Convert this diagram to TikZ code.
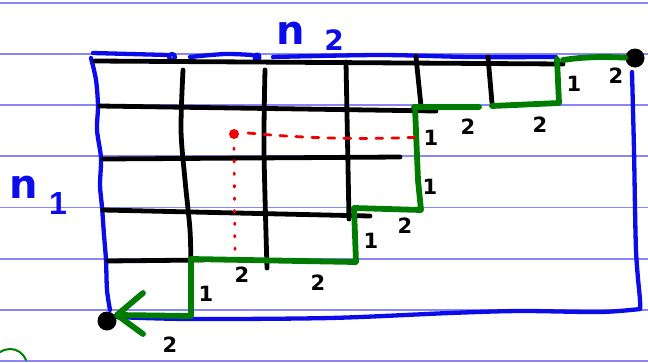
\documentclass[tikz,border=0pt]{standalone}
\usepackage{fontspec}
\setmainfont{DejaVu Sans}
\newfontfamily\plainsans{Liberation Sans}
\definecolor{ruleline}{RGB}{135,135,250}
\definecolor{penblue}{RGB}{12,12,235}
\definecolor{pengreen}{RGB}{0,125,0}
\definecolor{penred}{RGB}{240,0,0}
\begin{document}
\begin{tikzpicture}[x=1pt,y=-1pt,line cap=round,line join=round,
  rule/.style={draw=ruleline,line width=1.3pt},
  bluepen/.style={draw=penblue,line width=4.3pt},
  blackpen/.style={draw=black,line width=4.8pt},
  greenpen/.style={draw=pengreen,line width=5.8pt},
  redpen/.style={draw=penred,line width=2.8pt},
  num/.style={font=\fontsize{21}{21}\selectfont\bfseries,text=black,inner sep=0pt},
  bluelbl/.style={text=penblue,inner sep=0pt},
  dot/.style={circle,fill=black,minimum size=19pt,inner sep=0pt}]
\useasboundingbox (0,0) rectangle (648,362);
\fill[white] (0,0) rectangle (648,362);
% notebook rules
\foreach \y in {3,54,105,156,207.5,259,310,361} \draw[rule] (0,\y) -- (648,\y);
% green fragment bottom-left
\draw[pengreen,line width=2pt] (-10,362) .. controls (2,344) and (20,346) .. (26,360);
% blue outline
\draw[bluepen] plot[smooth] coordinates {(93,53) (130,54) (168,55)};
\draw[bluepen] (172,57) circle[radius=3pt];
\draw[bluepen] plot[smooth] coordinates {(190,57) (225,54) (252,55)};
\draw[bluepen] (257,57) circle[radius=2.5pt];
\draw[bluepen] plot[smooth] coordinates {(273,57) (380,55) (470,57) (556,57)};
\draw[bluepen] plot[smooth] coordinates {(91,58) (96,80) (98,106) (97,130) (101,158) (100,185) (102,207) (104,235) (106,260) (107,290) (110,310)};
\draw[bluepen] plot[smooth] coordinates {(632,72) (634,150) (636,250) (640,300) (640,309)};
\draw[bluepen] plot[smooth] coordinates {(640,309) (600,312) (520,311) (450,313) (330,318) (190,319) (115,317)};
% black grid
\draw[blackpen] (95,61) -- (563,64);
\draw[blackpen] (100,106) -- (436,111);
\draw[blackpen] (103,159) -- (400,157);
\draw[blackpen] (103,210) -- (370,216);
\draw[blackpen] (108,261) -- (203,260);
\draw[blackpen] plot[smooth] coordinates {(183,70) (181,130) (185,180) (190,230) (191,270)};
\draw[blackpen] plot[smooth] coordinates {(265,70) (264,150) (267,268)};
\draw[blackpen] (346,62) -- (349,219);
\draw[blackpen] (416,57) -- (421,106);
\draw[blackpen] (488,57) -- (492,103);
% dots
\node[dot] (tr) at (635,58) {};
\node[dot] (bl) at (107,321) {};
% green staircase
\draw[greenpen] (563,60) .. controls (590,56) and (610,57) .. (tr);
\draw[greenpen] (557,59) -- (559,103) -- (492,106);
\draw[greenpen] (479,107) -- (414,107);
\draw[greenpen] (415,107) -- (418,180) -- (421,210) -- (354,208) -- (356,262) -- (191,259) -- (191,316) -- (117,315);
\draw[greenpen] (143,293) -- (117,315) -- (143,334);
% red dashed
\fill[penred] (234,134) circle[radius=5pt];
\draw[redpen,dash pattern=on 7pt off 9pt] (248,133) .. controls (300,138) and (360,140) .. (422,137);
\draw[redpen,dash pattern=on 1.5pt off 11pt] (234,148) -- (235,254);
% labels
\node[num] (l1) at (574,84) {1};
\node[num] (l2) at (616,76) {2};
\node[num] (l3) at (468,127) {2};
\node[num] (l4) at (540,125) {2};
\node[num] (l5) at (431,138) {1};
\node[num] (l6) at (430,187) {1};
\node[num] (l7) at (371,241) {1};
\node[num] (l8) at (405,226) {2};
\node[num] (l9) at (242,275) {2};
\node[num] (l10) at (318,283) {2};
\node[num] (l11) at (206,294) {1};
\node[num] (l12) at (170,345) {2};
\node[bluelbl,font=\fontsize{40}{40}\selectfont\bfseries] (n2n) at (291,33) {n};
\node[bluelbl,font=\fontsize{28}{28}\selectfont\bfseries] (n2s) at (334,40) {2};
\node[bluelbl,font=\fontsize{40}{40}\selectfont\bfseries] (n1n) at (24,187) {n};
\node[bluelbl,font=\plainsans\fontsize{32}{32}\selectfont\bfseries] (n1s) at (58,203) {1};
\end{tikzpicture}
\end{document}
